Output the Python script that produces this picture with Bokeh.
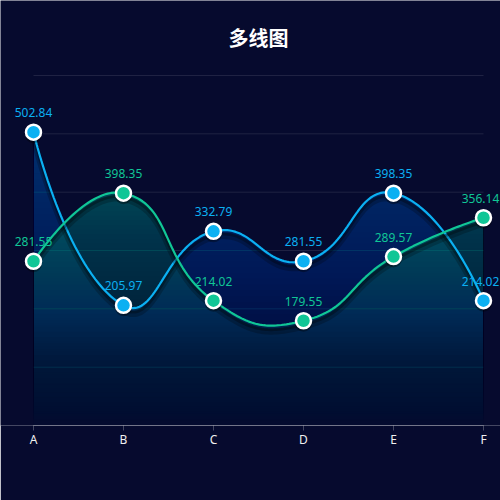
import numpy as np
from bokeh.plotting import figure
from bokeh.models import ColumnDataSource, LabelSet, Range1d, FixedTicker
from bokeh.core.properties import value
from bokeh.embed import file_html
from bokeh.resources import INLINE

# ---------------- data ----------------
categories = ["A", "B", "C", "D", "E", "F"]
series_blue = [502.84, 205.97, 332.79, 281.55, 398.35, 214.02]
series_green = [281.55, 398.35, 214.02, 179.55, 289.57, 356.14]
y_grid_ticks = [100, 200, 300, 400, 500, 600]
title_text = "多线图"

# ---------------- style / layout ----------------
BG = "#060a2e"
BLUE = "#0bb0f2"
GREEN = "#10c696"
BLUE_AREA = (15, 145, 220)
GREEN_AREA = (15, 210, 175)
FONT = "Noto Sans"
TITLE_FONT = "Noto Sans CJK SC"

W, H = 500, 500
X0_PX, X1_PX = 33, 483       # pixel columns of first / last category
Y0_PX, YTOP_PX = 425, 75     # pixel rows of value 0 / value YMAX
TITLE_PX = 37
YMAX = 600
XMAX = len(categories) - 1
sx = (X1_PX - X0_PX) / XMAX
sy = (Y0_PX - YTOP_PX) / YMAX


def smooth_curve(values, smooth=0.5, n=40):
    """ECharts-style bezier smoothing computed in pixel space."""
    X = np.arange(len(values)) * sx
    Y = np.asarray(values, float) * sy
    xs, ys = [X[0]], [Y[0]]
    cpx0, cpy0 = X[0], Y[0]
    t = np.linspace(0, 1, n)[1:]
    for i in range(1, len(X)):
        x, y = X[i], Y[i]
        px, py = X[i - 1], Y[i - 1]
        if i + 1 < len(X):
            nx, ny = X[i + 1], Y[i + 1]
            vx, vy = nx - px, ny - py
            l0 = np.hypot(x - px, y - py)
            l1 = np.hypot(nx - x, ny - y)
            r = l1 / (l0 + l1)
            ncx, ncy = x + vx * smooth * r, y + vy * smooth * r
        else:
            vx = vy = 0.0
            r = 0.5
            ncx, ncy = x, y
        cpx1, cpy1 = x - vx * smooth * (1 - r), y - vy * smooth * (1 - r)
        bx = (1 - t) ** 3 * px + 3 * (1 - t) ** 2 * t * cpx0 + 3 * (1 - t) * t ** 2 * cpx1 + t ** 3 * x
        by = (1 - t) ** 3 * py + 3 * (1 - t) ** 2 * t * cpy0 + 3 * (1 - t) * t ** 2 * cpy1 + t ** 3 * y
        xs.extend(bx)
        ys.extend(by)
        cpx0, cpy0 = ncx, ncy
    return np.array(xs) / sx, np.array(ys) / sy


p = figure(width=W, height=H, output_backend="svg", toolbar_location=None,
           x_range=Range1d(-X0_PX / sx, (W - X0_PX) / sx),
           y_range=Range1d(0, Y0_PX / sy),
           y_axis_location=None,
           min_border_left=0, min_border_right=0,
           min_border_top=0, min_border_bottom=H - Y0_PX)
p.background_fill_color = BG
p.border_fill_color = BG
p.outline_line_color = None
p.title.visible = False
p.grid.visible = False

xa = p.xaxis[0]
xa.bounds = (0, XMAX)
xa.ticker = FixedTicker(ticks=list(range(len(categories))))
xa.major_label_overrides = {i: c for i, c in enumerate(categories)}
xa.axis_line_color = "#ffffff"
xa.axis_line_alpha = 0.25
xa.major_tick_line_color = "#ffffff"
xa.major_tick_line_alpha = 0.25
xa.major_tick_in = 0
xa.major_tick_out = 5
xa.minor_tick_line_color = None
xa.major_label_text_color = "#f0f0f0"
xa.major_label_text_font = FONT
xa.major_label_text_font_size = "12px"
xa.major_label_standoff = 0

# horizontal grid lines spanning the category extent
p.segment(x0=[0] * len(y_grid_ticks), x1=[XMAX] * len(y_grid_ticks),
          y0=y_grid_ticks, y1=y_grid_ticks,
          line_color="#ffffff", line_alpha=0.1, line_width=1)

# title
p.text(x=[XMAX / 2], y=[(Y0_PX - TITLE_PX) / sy], text=[title_text],
       text_align="center", text_baseline="middle", text_color="#ffffff",
       text_font=value(TITLE_FONT), text_font_size="20px",
       text_font_style="bold")

series = [
    (series_blue, BLUE, BLUE_AREA, 0.44),
    (series_green, GREEN, GREEN_AREA, 0.44),
]

curves = []
for vals, col, acol, atop in series:
    cx, cy = smooth_curve(vals)
    curves.append((cx, cy))
    top = cy.max()
    nb = 50
    levels = np.linspace(0, top, nb + 1)[:-1]
    prev_o = 0.0
    for k, lv in enumerate(levels):
        target = atop * (k + 1) / nb
        a = 1 - (1 - target) / (1 - prev_o)
        prev_o = target
        p.varea(x=cx, y1=np.minimum(cy, lv), y2=cy,
                fill_color="rgb(%d,%d,%d)" % acol, fill_alpha=a)

for (vals, col, acol, atop), (cx, cy) in zip(series, curves):
    p.line(cx, cy - 6 / sy, line_color="#000000", line_alpha=0.22, line_width=6)
    p.line(cx, cy - 4 / sy, line_color="#000000", line_alpha=0.3, line_width=3)
    p.line(cx, cy, line_color=col, line_width=2.2)

for vals, col, acol, atop in series:
    n = len(categories)
    src = ColumnDataSource(dict(
        x=list(range(n)),
        y=vals,
        ys=[v - 2.5 / sy for v in vals],
        label=["%.2f" % v for v in vals],
        # keep the last label inside the canvas edge
        xoff=[0] * (n - 1) + [-3],
    ))
    p.scatter("x", "ys", source=src, size=17, fill_color="#000000",
              fill_alpha=0.35, line_color=None)
    p.scatter("x", "y", source=src, size=15, fill_color=col,
              line_color="#ffffff", line_width=2.5)
    labels = LabelSet(x="x", y="y", text="label", source=src,
                      x_offset="xoff", y_offset=15, text_align="center",
                      text_baseline="alphabetic", text_color=col,
                      text_font=value(FONT), text_font_size="12px")
    p.add_layout(labels)

open("out.html", "w").write(file_html(p, INLINE))
